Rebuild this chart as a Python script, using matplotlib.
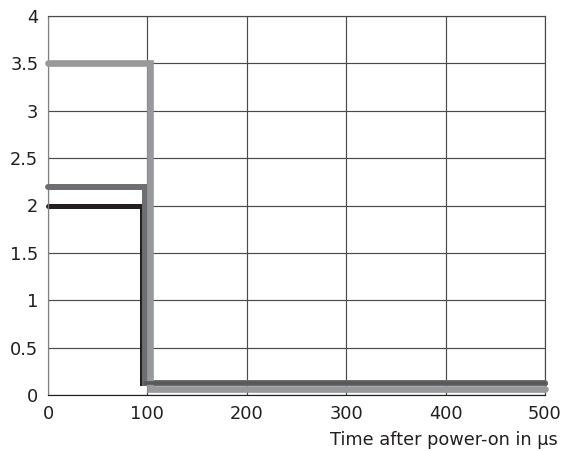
import matplotlib
matplotlib.use("Agg")
import matplotlib.pyplot as plt

plt.rcParams['font.family'] = ['DejaVu Sans']

# Step series: (time µs, value)
light_t = [0, 102.5, 102.5, 500]
light_v = [3.5, 3.5, 0.06, 0.06]
dark_t = [0, 98, 98, 500]
dark_v = [2.2, 2.2, 0.13, 0.13]
black_t = [0, 95, 95, 500]
black_v = [2.0, 2.0, 0.13, 0.13]

xticks = [0, 100, 200, 300, 400, 500]
yticks = [0, 0.5, 1, 1.5, 2, 2.5, 3, 3.5, 4]
ytick_labels = ['0', '0.5', '1', '1.5', '2', '2.5', '3', '3.5', '4']
xlabel = 'Time after power-on in µs'

fig = plt.figure(figsize=(5.63, 4.51), dpi=100)
ax = fig.add_axes([48/563, 1 - 395/451, (545-48)/563, (395-16)/451])

ax.plot(black_t, black_v, color='#231f20', lw=3.6, solid_joinstyle='miter', solid_capstyle='round', clip_on=False, zorder=2)
ax.plot(dark_t, dark_v, color='#6d6e71', lw=4.3, solid_joinstyle='miter', solid_capstyle='round', clip_on=False, zorder=3)
ax.plot(light_t, light_v, color='#98999c', lw=4.8, solid_joinstyle='miter', solid_capstyle='round', clip_on=False, zorder=4)
# bottom dark segment lies over the light one
ax.plot(dark_t[2:], dark_v[2:], color='#58585b', lw=2.6, solid_capstyle='round', clip_on=False, zorder=5)

ax.set_xlim(0, 500)
ax.set_ylim(0, 4)
ax.set_xticks(xticks)
ax.set_yticks(yticks)
ax.set_yticklabels(ytick_labels)
ax.grid(True, color='#4a4a4a', lw=0.85)
ax.set_axisbelow(True)
for s in ax.spines.values():
    s.set_color('#4a4a4a')
    s.set_linewidth(0.85)
ax.spines['left'].set_color('#808080')
ax.spines['bottom'].set_color('#231f20')
ax.tick_params(length=0, labelsize=12.8, colors='#231f20')
ax.tick_params(axis='y', pad=7)
ax.tick_params(axis='x', pad=7)

fig.text(558/563, 6/451, xlabel, ha='right', va='baseline', fontsize=12.8, color='#231f20')

fig.savefig('out.png', dpi=100)
